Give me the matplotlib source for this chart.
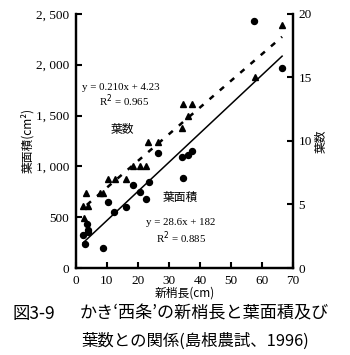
import matplotlib
matplotlib.use("Agg")
import matplotlib.pyplot as plt

# 葉面積 (leaf area, cm2) vs 新梢長 (shoot length, cm)
area_x = [2.2, 3.5, 3.9, 3.9, 2.9, 8.8, 10.2, 12.4, 16.1, 18.5,
          20.6, 22.6, 23.5, 26.5, 34.2, 36.1, 37.4, 34.5, 57.4, 66.5]
area_y = [325, 433, 374, 350, 236, 197, 645, 551, 600, 820,
          748, 679, 846, 1131, 1092, 1112, 1151, 886, 2430, 1968]

# 葉数 (leaf number) vs shoot length
num_x = [2.6, 2.2, 3.9, 3.2, 7.7, 8.6, 10.3, 12.6, 16.1, 18.4,
         20.6, 22.6, 23.2, 26.5, 34.2, 36.1, 34.5, 37.4, 57.7, 66.5]
num_y = [3.9, 4.9, 4.9, 5.9, 5.9, 5.9, 7.0, 7.0, 7.0, 8.0,
         8.0, 8.0, 9.9, 9.9, 11.0, 12.0, 12.9, 12.9, 15.0, 19.1]

# regression lines
area_fit = (28.6, 182)
num_fit = (0.210, 4.23)
area_fit_x = [2.3, 66.5]
num_fit_x = [3.5, 66.5]

xticks = [0, 10, 20, 30, 40, 50, 60, 70]
left_ticks = [0, 500, 1000, 1500, 2000, 2500]
left_labels = ["0", "500", "1, 000", "1, 500", "2, 000", "2, 500"]
right_ticks = [0, 5, 10, 15, 20]

jp = ["Noto Sans CJK JP", "DejaVu Sans"]
num_font = "Liberation Serif"

fig = plt.figure(figsize=(3.5, 3.55), dpi=100)
ax = fig.add_axes([0.217, 0.245, 0.62, 0.716])
ax2 = ax.twinx()

ax.plot(area_x, area_y, "o", color="black", markersize=4.3, zorder=3)
ax.plot(area_fit_x, [area_fit[0] * v + area_fit[1] for v in area_fit_x],
        color="black", linewidth=1.1)

ax2.plot(num_x, num_y, "^", color="black", markersize=4.6, zorder=3)
ax2.plot(num_fit_x, [num_fit[0] * v + num_fit[1] for v in num_fit_x],
         color="black", linewidth=1.8, linestyle=(0, (2.2, 3.2)))

ax.set_xlim(0, 70)
ax.set_ylim(0, 2500)
ax2.set_ylim(0, 20)

ax.set_xticks(xticks)
ax.set_xticklabels([str(v) for v in xticks], fontfamily=num_font, fontsize=9.5)
ax.set_yticks(left_ticks)
ax.set_yticklabels(left_labels, fontfamily=num_font, fontsize=9.5)
ax2.set_yticks(right_ticks)
ax2.set_yticklabels([str(v) for v in right_ticks], fontfamily=num_font, fontsize=9.5)

for a in (ax, ax2):
    a.tick_params(direction="in", length=4, width=1.5, pad=5)
    for s in a.spines.values():
        s.set_linewidth(1.6)
    a.spines["top"].set_visible(False)
ax2.tick_params(pad=4)

ax.set_xlabel("新梢長(cm)", fontfamily=jp, fontsize=8.5, labelpad=0)
ax.set_ylabel("葉面積(cm²)", fontfamily=jp, fontsize=8.5, labelpad=1)
ax2.set_ylabel("葉数", fontfamily=jp, fontsize=8.5, rotation=90, labelpad=2)

ax.text(1.8, 1780, "y = 0.210x + 4.23", fontfamily=num_font, fontsize=7.8,
        va="center")
ax.text(15.5, 1650, "R$^2$ = 0.965", fontfamily=num_font, fontsize=7.8,
        va="center", ha="center")
ax.text(15, 1360, "葉数", fontfamily=jp, fontsize=8.5, ha="center", va="center")
ax.text(33.5, 690, "葉面積", fontfamily=jp, fontsize=8.5, ha="center", va="center")
ax.text(33.9, 443, "y = 28.6x + 182", fontfamily=num_font, fontsize=7.8,
        va="center", ha="center")
ax.text(33.9, 295, "R$^2$ = 0.885", fontfamily=num_font, fontsize=7.8,
        va="center", ha="center")

fig.text(12 / 350, 1 - 314 / 355, "図3-9", fontfamily=jp, fontsize=12.5, va="center")
fig.text(80 / 350, 1 - 314 / 355, "かき‘西条’の新梢長と葉面積及び",
         fontfamily=jp, fontsize=12.3, va="center")
fig.text(81 / 350, 1 - 341 / 355, "葉数との関係(島根農試、1996)",
         fontfamily=jp, fontsize=11.8, va="center")

fig.savefig("out.png", dpi=100)
